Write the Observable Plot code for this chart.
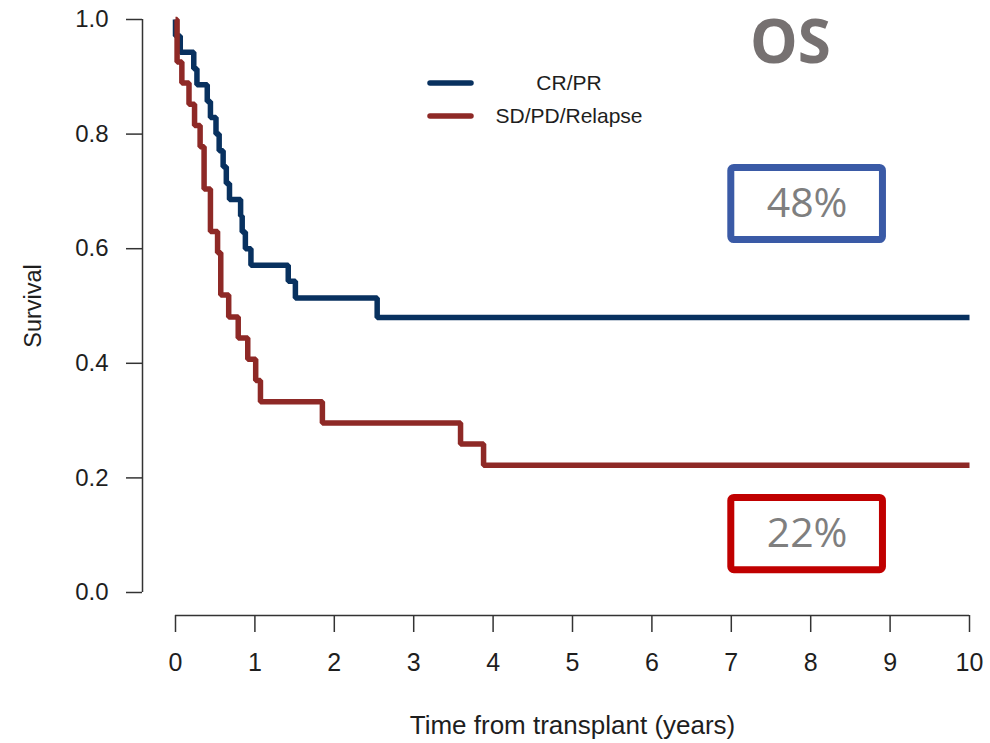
<!DOCTYPE html>
<html>
<head>
<meta charset="utf-8">
<script src="https://cdn.jsdelivr.net/npm/d3@7"></script>
<script src="https://cdn.jsdelivr.net/npm/@observablehq/plot@0.6"></script>
<style>
  body { margin: 0; background: #fff; }
  #chart { position: relative; width: 990px; height: 743px; }
  #legend { position: absolute; left: 0; top: 0; pointer-events: none; }
</style>
</head>
<body>
<div id="chart"></div>
<script>
// Kaplan–Meier overall survival by response status
const groups = ["CR/PR", "SD/PD/Relapse"];
const colors = ["#08315f", "#8e2926"];

// CR/PR: event times (years) and survival after each step
const crprTime = [0, 0, 0.06, 0.23, 0.27, 0.40, 0.44, 0.51, 0.55, 0.60, 0.64, 0.68, 0.82, 0.84, 0.88, 0.95, 1.42, 1.51, 2.54, 10];
const crprSurv = [1, 0.971, 0.943, 0.914, 0.886, 0.857, 0.829, 0.800, 0.771, 0.743, 0.714, 0.686, 0.657, 0.629, 0.600, 0.571, 0.543, 0.514, 0.480, 0.480];

// SD/PD/Relapse: event times (years) and survival after each step
const relTime = [0, 0.02, 0.08, 0.17, 0.24, 0.31, 0.36, 0.44, 0.53, 0.57, 0.67, 0.79, 0.91, 1.01, 1.07, 1.85, 3.59, 3.88, 10];
const relSurv = [1, 0.926, 0.889, 0.852, 0.815, 0.778, 0.704, 0.630, 0.593, 0.519, 0.481, 0.444, 0.407, 0.370, 0.333, 0.296, 0.259, 0.222, 0.222];

const xTicks = [0, 1, 2, 3, 4, 5, 6, 7, 8, 9, 10];
const yTicks = [0, 0.2, 0.4, 0.6, 0.8, 1.0];

// Callout boxes showing the plateau survival of each group
const calloutGroup = ["CR/PR", "SD/PD/Relapse"];
const calloutColor = ["#3a5aa6", "#c00000"];
const calloutCenterY = [0.678, 0.102];
const calloutX = [7.0, 8.91];

const rows = [
  ...crprTime.map((t, i) => ({group: groups[0], time: t, surv: crprSurv[i]})),
  ...relTime.map((t, i) => ({group: groups[1], time: t, surv: relSurv[i]}))
];

const finalValue = {
  [groups[0]]: crprSurv[crprSurv.length - 1],
  [groups[1]]: relSurv[relSurv.length - 1]
};

const callouts = calloutGroup.map((g, i) => ({
  group: g,
  value: finalValue[g],
  color: calloutColor[i],
  cy: calloutCenterY[i],
  x1: calloutX[0],
  x2: calloutX[1]
}));

const axisColor = "#333";
const textColor = "#1e1e1e";
const half = 0.063;

const chart = Plot.plot({
  width: 990,
  height: 743,
  marginLeft: 175,
  marginRight: 21,
  marginTop: 19,
  marginBottom: 151,
  x: {domain: [0, 10], axis: null},
  y: {domain: [0, 1], axis: null},
  color: {domain: groups, range: colors},
  style: {fontFamily: "'Liberation Sans', Arial, sans-serif", background: "#fff", color: textColor},
  marks: [
    // y axis (offset to the left of the data region)
    Plot.ruleX([0], {y1: 0, y2: 1, dx: -33, stroke: axisColor, strokeWidth: 1.5}),
    Plot.ruleY(yTicks, {y: d => d, x1: 0, x2: 0, insetLeft: -16, dx: -33, stroke: axisColor, strokeWidth: 1.5}),
    Plot.text(yTicks, {x: 0, y: d => d, text: d => d.toFixed(1), textAnchor: "end", dx: -67, fontSize: 24, fill: textColor}),
    // x axis (offset below the data region)
    Plot.ruleY([0], {x1: 0, x2: 10, dy: 23, stroke: axisColor, strokeWidth: 1.5}),
    Plot.ruleX(xTicks, {x: d => d, y1: 0, y2: 0, insetBottom: -17, dy: 23, stroke: axisColor, strokeWidth: 1.5}),
    Plot.text(xTicks, {x: d => d, y: 0, text: d => String(d), dy: 70, fontSize: 25, fill: textColor}),
    // axis titles
    Plot.text(["Survival"], {frameAnchor: "left", rotate: -90, dx: -142, textAnchor: "middle", lineAnchor: "middle", fontSize: 23.5, fill: textColor}),
    Plot.text(["Time from transplant (years)"], {frameAnchor: "bottom", dy: 133, lineAnchor: "middle", fontSize: 26, fill: textColor}),
    // survival curves
    Plot.line(rows, {x: "time", y: "surv", z: "group", stroke: "group", curve: "step-after", strokeWidth: 5.5, strokeLinejoin: "miter", strokeLinecap: "butt"}),
    // plateau callouts
    Plot.rect(callouts, {x1: "x1", x2: "x2", y1: d => d.cy - half, y2: d => d.cy + half, stroke: "color", fill: "none", strokeWidth: 7, rx: 3}),
    Plot.text(callouts, {x: d => (d.x1 + d.x2) / 2, y: "cy", text: d => d3.format(".0%")(d.value), fontFamily: "'Open Sans', sans-serif", fontSize: 41, fill: "#7f7f7f", lineAnchor: "middle"}),
    // panel title
    Plot.text(["OS"], {frameAnchor: "top-left", dx: 615, dy: 24, textAnchor: "middle", lineAnchor: "middle", fontFamily: "'Open Sans', sans-serif", fontWeight: "bold", fontSize: 60, fill: "#767171"})
  ]
});

const host = document.getElementById("chart");
host.appendChild(chart);

// Legend drawn over the plot area
const legend = d3.select(host).append("svg")
  .attr("id", "legend")
  .attr("width", 990)
  .attr("height", 743);

const legendRows = legend.selectAll("g")
  .data(groups)
  .join("g")
  .attr("transform", (d, i) => `translate(0, ${83 + i * 33})`);

legendRows.append("line")
  .attr("x1", 430).attr("x2", 471)
  .attr("stroke", (d, i) => colors[i])
  .attr("stroke-width", 5.5)
  .attr("stroke-linecap", "round");

legendRows.append("text")
  .attr("x", 569)
  .attr("dy", "0.35em")
  .attr("text-anchor", "middle")
  .attr("font-family", "'Liberation Sans', Arial, sans-serif")
  .attr("font-size", 21)
  .attr("fill", textColor)
  .text(d => d);
</script>
</body>
</html>
